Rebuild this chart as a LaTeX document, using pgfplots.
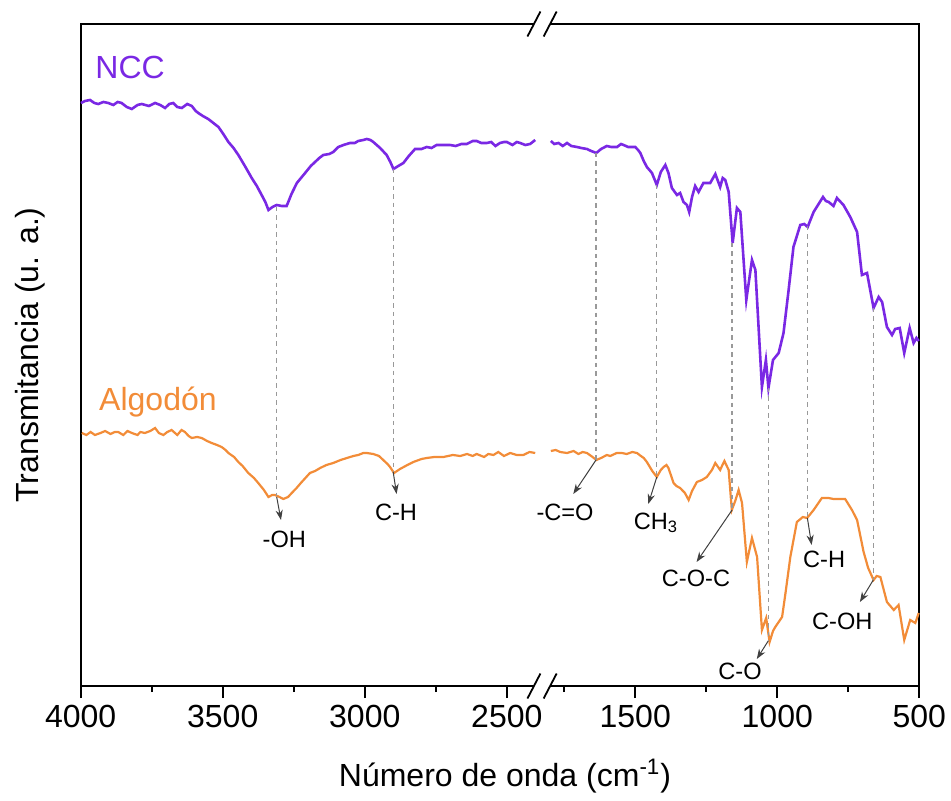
\documentclass[border=0pt]{standalone}
\usepackage{pgfplots}
\pgfplotsset{compat=1.18}
\usepackage{pgfplotstable}
\usepackage{fontspec}
\setmainfont{Liberation Sans}
\usetikzlibrary{arrows.meta}
\definecolor{ncc}{RGB}{122,40,228}
\definecolor{alg}{RGB}{242,140,56}
\newcommand\annf{\fontsize{11.8}{14}\selectfont}
\newcommand\bigf{\fontsize{16}{19}\selectfont}
\tikzset{
  dl/.style={gray!80, line width=0.6pt, dash pattern=on 2.2pt off 2pt},
  ar/.style={black!75, line width=0.5pt, -{Stealth[length=5pt,width=3.6pt]}},
}

\pgfplotstableread{
wn y
3999 583
3985 585
3967 586
3952 583
3938 582
3920 584
3903 583
3885 581
3870 584
3856 583
3838 579
3820 577
3800 581
3785 582
3760 580
3738 583
3720 581
3703 578
3688 582
3674 583
3660 579
3644 578
3625 582
3609 580
3595 575
3586 573
3570 570
3551 567
3533 563
3515 559
3498 552
3480 544
3462 538
3445 531
3420 519
3398 508
3380 500
3363 491
3350 484
3339 476
3325 479
3310 481
3292 480
3275 480
3258 492
3239 503
3210 513
3190 520
3175 524
3160 528
3146 531
3125 532
3111 534
3093 539
3075 541
3052 543
3035 543
3023 545
3005 546
2993 547
2980 546
2970 544
2946 538
2923 531
2910 524
2899 517
2882 520
2864 523
2845 530
2823 537
2800 537
2782 539
2765 538
2747 541
2725 541
2700 541
2680 540
2660 542
2641 542
2620 545
2606 545
2590 543
2570 543
2555 544
2540 540
2524 543
2510 544
2500 544
2480 541
2465 544
2453 543
2435 541
2418 542
2400 546
}\nccL

\pgfplotstableread{
wn y
1797 545
1785 542
1770 543
1755 540
1740 543
1725 540
1705 539
1690 538
1670 537
1655 535
1637 533
1620 537
1600 540
1585 539
1564 539
1550 542
1541 541
1525 539
1500 539
1490 536
1482 533
1470 525
1459 519
1441 513
1424 501
1410 514
1394 521
1383 513
1371 498
1353 491
1342 493
1330 484
1318 481
1310 474
1300 489
1289 500
1277 494
1260 503
1248 503
1236 503
1218 512
1201 499
1192 508
1183 506
1171 494
1157 443
1142 478
1130 474
1109 386
1089 426
1077 416
1054 299
1040 326
1031 298
1015 326
995 333
978 353
960 396
943 439
919 461
905 462
893 459
872 474
839 489
829 485
819 484
802 480
790 488
767 481
743 469
719 454
702 411
684 413
661 378
643 389
631 384
614 359
596 351
585 357
569 358
553 333
534 358
520 343
510 348
502 345
}\nccR

\pgfplotstableread{
wn y
3996 253
3980 251
3965 254
3950 251
3930 253
3914 255
3895 252
3880 254
3868 254
3850 251
3835 255
3820 253
3800 251
3790 254
3774 253
3755 255
3738 258
3725 253
3709 251
3695 254
3680 256
3660 251
3645 256
3633 254
3620 250
3609 248
3590 249
3574 248
3555 245
3539 243
3520 241
3504 239
3490 236
3480 233
3460 229
3445 224
3430 220
3410 213
3390 208
3375 203
3355 196
3339 189
3326 191
3316 191
3300 189
3287 187
3270 189
3257 193
3240 198
3225 203
3193 213
3175 215
3157 218
3135 221
3111 223
3085 226
3063 228
3040 230
3023 231
3005 233
2993 233
2970 232
2950 230
2935 226
2920 222
2911 219
2897 213
2876 217
2850 221
2829 224
2800 227
2782 228
2755 229
2723 229
2690 231
2664 230
2640 232
2620 230
2606 232
2580 229
2565 232
2547 231
2530 234
2510 230
2488 233
2465 231
2442 231
2420 234
2400 233
}\algL

\pgfplotstableread{
wn y
1797 235
1780 236
1764 234
1740 233
1717 235
1700 232
1685 234
1670 233
1650 229
1637 226
1620 228
1600 231
1588 230
1565 233
1547 233
1530 232
1510 234
1494 233
1480 230
1470 228
1459 224
1440 215
1424 209
1410 216
1400 219
1390 221
1383 218
1365 203
1355 200
1342 198
1325 193
1312 186
1300 195
1283 204
1265 206
1248 209
1230 216
1218 223
1201 216
1193 221
1186 225
1171 216
1160 176
1148 185
1136 196
1124 183
1107 124
1089 148
1071 129
1054 56
1039 68
1027 44
1015 55
1007 59
983 69
970 95
954 129
931 164
910 169
895 168
872 176
843 188
820 188
802 187
785 187
761 187
737 176
719 166
696 134
680 118
661 106
650 110
637 109
614 84
590 76
573 81
553 46
532 66
514 63
502 73
}\algR

\begin{document}
\begin{tikzpicture}
\useasboundingbox (-40.35pt,-57.5pt) rectangle (435.15pt,343pt);
\begin{axis}[
  scale only axis, width=419.3pt, height=331pt,
  xmin=1048, xmax=4000, x dir=reverse,
  ymin=0, ymax=662,
  clip=false,
  ytick=\empty,
  xtick={4000,3500,3000,2500,2048,1548,1048},
  xticklabels={4000,3500,3000,2500,1500,1000,500},
  minor xtick={3750,3250,2750,2298,1798,1298},
  xtick pos=bottom,
  tick align=outside,
  major tick length=6pt, minor tick length=3pt,
  every tick/.style={black, line width=0.9pt},
  axis line style={line width=1pt},
  tick label style={font=\bigf},
  xlabel={Número de onda (cm\textsuperscript{-1})},
  ylabel={Transmitancia (u. a.)},
  label style={font=\bigf},
  xlabel style={at={(axis description cs:0.506,-0.136)}, anchor=center},
  ylabel style={at={(axis description cs:-0.0605,0.5)}, anchor=center},
]
\addplot[ncc, line width=1.3pt] table[x=wn,y=y] {\nccL};
\addplot[ncc, line width=1.3pt] table[x expr=\thisrow{wn}+548,y=y] {\nccR};
\addplot[alg, line width=1.1pt] table[x=wn,y=y] {\algL};
\addplot[alg, line width=1.1pt] table[x expr=\thisrow{wn}+548,y=y] {\algR};

% dashed guide lines
\draw[dl] (axis cs:3310,479) -- (axis cs:3310,190);
\draw[dl] (axis cs:2900,517) -- (axis cs:2900,214);
\draw[dl] (axis cs:2186,533) -- (axis cs:2186,226);
\draw[dl] (axis cs:1972,501) -- (axis cs:1972,209);
\draw[dl] (axis cs:1707,443) -- (axis cs:1707,176);
\draw[dl] (axis cs:1580,298) -- (axis cs:1580,45);
\draw[dl] (axis cs:1442,460) -- (axis cs:1442,168);
\draw[dl] (axis cs:1210,378) -- (axis cs:1210,106);

% arrows
\draw[ar] (axis cs:3310,189) -- (axis cs:3295,166);
\draw[ar] (axis cs:2900,214) -- (axis cs:2888,192);
\draw[ar] (axis cs:2186,226) -- (axis cs:2266,192);
\draw[ar] (axis cs:1972,209) -- (axis cs:2002,182);
\draw[ar] (axis cs:1707,176) -- (axis cs:1832,124);
\draw[ar] (axis cs:1580,45) -- (axis cs:1620,27);
\draw[ar] (axis cs:1442,168) -- (axis cs:1427,141);
\draw[ar] (axis cs:1210,106) -- (axis cs:1257,84);

% labels
\node[font=\annf] at (axis cs:3283,147) {-OH};
\node[font=\annf] at (axis cs:2890,174) {C-H};
\node[font=\annf] at (axis cs:2295,174) {-C=O};
\node[font=\annf] at (axis cs:1975,163) {CH\textsubscript{3}};
\node[font=\annf] at (axis cs:1834,108) {C-O-C};
\node[font=\annf] at (axis cs:1679,15) {C-O};
\node[font=\annf] at (axis cs:1383,127) {C-H};
\node[font=\annf] at (axis cs:1319,65) {C-OH};

\node[font=\bigf, text=ncc] at (axis cs:3826,619) {NCC};
\node[font=\bigf, text=alg] at (axis cs:3728,284) {Algodón};

\coordinate (bt) at (axis cs:2376,662);
\coordinate (bb) at (axis cs:2376,0);
\end{axis}
\foreach \c in {bt,bb} {
  \fill[white] ([xshift=-4pt,yshift=-2pt]\c) rectangle ([xshift=4pt,yshift=2pt]\c);
  \draw[line width=0.9pt] ([xshift=-7.3pt,yshift=-6.25pt]\c) -- ([xshift=-0.8pt,yshift=6.25pt]\c);
  \draw[line width=0.9pt] ([xshift=0.8pt,yshift=-6.25pt]\c) -- ([xshift=7.3pt,yshift=6.25pt]\c);
}
\end{tikzpicture}
\end{document}
